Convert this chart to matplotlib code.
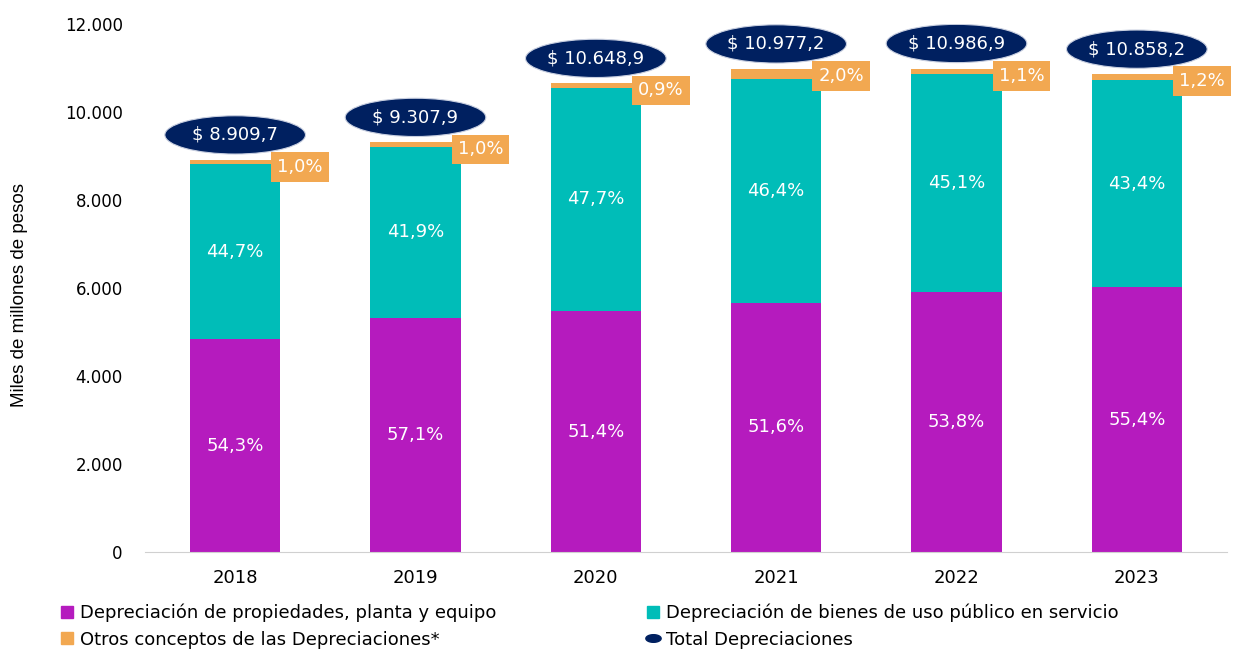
import matplotlib
matplotlib.use("Agg")
import matplotlib.pyplot as plt
from matplotlib.patches import Ellipse
from matplotlib.lines import Line2D
from matplotlib.path import Path
import numpy as np

years = ["2018", "2019", "2020", "2021", "2022", "2023"]
totals = [8909.7, 9307.9, 10648.9, 10977.2, 10986.9, 10858.2]
pct_ppe = [54.3, 57.1, 51.4, 51.6, 53.8, 55.4]
pct_bienes = [44.7, 41.9, 47.7, 46.4, 45.1, 43.4]
pct_otros = [1.0, 1.0, 0.9, 2.0, 1.1, 1.2]

labels = ["Depreciación de propiedades, planta y equipo",
          "Depreciación de bienes de uso público en servicio",
          "Otros conceptos de las Depreciaciones*",
          "Total Depreciaciones"]

C_PPE = "#B51BBE"
C_BIEN = "#00BDB8"
C_OTR = "#F2A851"
C_TOT = "#002060"

tot = np.array(totals)
v_ppe = tot * np.array(pct_ppe) / 100
v_bien = tot * np.array(pct_bienes) / 100
v_otr = tot * np.array(pct_otros) / 100

def fmt_num(v, dec=0):
    s = f"{v:,.{dec}f}"
    return s.replace(",", "X").replace(".", ",").replace("X", ".")

plt.rcParams['font.family'] = ['DejaVu Sans']
fig = plt.figure(figsize=(12.35, 6.52), dpi=100)
ax = fig.add_axes([145/1235, 1-552/652, (1227-145)/1235, (552-24)/652])

x = np.arange(len(years))
w = 0.5
ax.bar(x, v_ppe, w, color=C_PPE)
ax.bar(x, v_bien, w, bottom=v_ppe, color=C_BIEN)
ax.bar(x, v_otr, w, bottom=v_ppe + v_bien, color=C_OTR)

for i in range(len(years)):
    ax.text(x[i], v_ppe[i] / 2, fmt_num(pct_ppe[i], 1) + "%", ha="center", va="center",
            color="white", fontsize=13)
    ax.text(x[i], v_ppe[i] + v_bien[i] / 2, fmt_num(pct_bienes[i], 1) + "%", ha="center",
            va="center", color="white", fontsize=13)
    ax.text(x[i] + 0.36, tot[i] - 160, fmt_num(pct_otros[i], 1) + "%", ha="center",
            va="center", color="white", fontsize=13,
            bbox=dict(boxstyle="square,pad=0.33", fc=C_OTR, ec="none"))
    cy = tot[i] + 570
    ax.add_patch(Ellipse((x[i], cy), 0.78, 870, fc=C_TOT, ec="#c8cfe0", lw=0.8, zorder=3))
    ax.text(x[i], cy, "$ " + fmt_num(tot[i], 1), ha="center", va="center",
            color="white", fontsize=13, zorder=4)

ax.set_xlim(-0.5, 5.5)
ax.set_ylim(0, 12000)
ax.set_xticks(x)
ax.set_xticklabels(years, fontsize=13)
ax.set_yticks(np.arange(0, 12001, 2000))
ax.set_yticklabels([fmt_num(v) for v in np.arange(0, 12001, 2000)], fontsize=12)
ax.tick_params(axis="both", length=0)
ax.tick_params(axis="x", pad=12)
ax.tick_params(axis="y", pad=16)
for s in ["top", "right", "left"]:
    ax.spines[s].set_visible(False)
ax.spines["bottom"].set_color("#d0d0d0")
fig.text(20/1235, 1-295/652, "Miles de millones de pesos", rotation=90, ha="center",
         va="center", fontsize=13.5, family=["Liberation Sans", "DejaVu Sans"])

t = np.linspace(0, 2*np.pi, 60)
ell_path = Path(np.column_stack([np.cos(t), 0.5*np.sin(t)]), closed=True)

h1 = [Line2D([], [], ls="none", marker="s", markersize=8, color=C_PPE),
      Line2D([], [], ls="none", marker="s", markersize=8, color=C_OTR)]
h2 = [Line2D([], [], ls="none", marker="s", markersize=8, color=C_BIEN),
      Line2D([], [], ls="none", marker=ell_path, markersize=11, color=C_TOT)]
kw = dict(frameon=False, fontsize=13, handlelength=0.8, handletextpad=0.3,
          borderpad=0, borderaxespad=0, labelspacing=0.45, loc="upper left")
fig.legend(h1, [labels[0], labels[2]], bbox_to_anchor=(60/1235, 1-604/652), **kw)
fig.legend(h2, [labels[1], labels[3]], bbox_to_anchor=(646/1235, 1-604/652), **kw)

fig.savefig("out.png", dpi=100)
